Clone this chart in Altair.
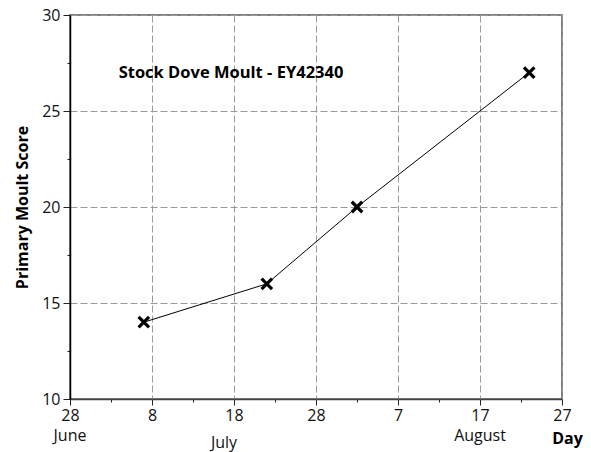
import altair as alt
import pandas as pd

# Moult observations for the ringed Stock Dove
sample_dates = ["07-07", "07-22", "08-02", "08-23"]
moult_scores = [14, 16, 20, 27]

# Axis ticks: one major tick every 10 days from 28 June, minor ones between
day_ticks = list(range(0, 61, 5))
day_labels = ["28", "8", "18", "28", "7", "17", "27"]
score_ticks = [10 + 2.5 * i for i in range(9)]

# Month names written under the day numbers (day offset from 28 June)
months = ["June", "July", "August"]
month_days = [0, 20, 50]

season_start = pd.Timestamp("2000-06-28")
days = [(pd.Timestamp("2000-" + d) - season_start).days for d in sample_dates]
df = pd.DataFrame({"day": days, "score": moult_scores})
month_df = pd.DataFrame({"day": month_days, "m": months})

FONT = "Open Sans"
W, H = 492, 384

label_list = "[" + ",".join(f"'{s}'" for s in day_labels) + "]"
x_axis = alt.Axis(
    values=day_ticks,
    labelExpr=f"datum.value % 10 == 0 ? {label_list}[datum.value / 10] : ''",
    labelFont=FONT, labelFontSize=16, labelColor="#111", labelPadding=2,
    labelFlush=False, labelOverlap=False,
    tickSize={"condition": {"test": "datum.value % 10 != 0", "value": 3}, "value": 6},
    tickColor="#222", domainColor="#444", domainWidth=1.5,
    grid=True, gridColor="#999", gridDash=[7, 3],
    gridOpacity={"condition": {"test": "datum.value % 10 != 0", "value": 0}, "value": 1},
    title="Day", titleFont=FONT, titleFontSize=16, titleFontWeight="bold",
    titleColor="#000", titleX=497, titleY=44, titleAlign="center",
    titleBaseline="alphabetic",
)

y_axis = alt.Axis(
    values=score_ticks,
    labelExpr="datum.value % 5 == 0 ? datum.value : ''",
    labelFont=FONT, labelFontSize=16, labelColor="#111", labelPadding=3,
    labelFlush=False, labelOverlap=False,
    tickSize={"condition": {"test": "datum.value % 5 != 0", "value": 3}, "value": 7},
    tickColor="#222", domainColor="#000", domainWidth=1.5,
    grid=True, gridColor="#999", gridDash=[7, 3],
    gridOpacity={"condition": {"test": "datum.value % 5 != 0", "value": 0}, "value": 1},
    title="Primary Moult Score", titleFont=FONT, titleFontSize=16,
    titleFontWeight="bold", titleColor="#000", titlePadding=11,
)

x_enc = alt.X("day:Q", scale=alt.Scale(domain=[0, 60], nice=False), axis=x_axis)
y_enc = alt.Y("score:Q", scale=alt.Scale(domain=[10, 30], nice=False), axis=y_axis)

line = alt.Chart(df).mark_line(color="#000", strokeWidth=1).encode(x=x_enc, y=y_enc)

points = alt.Chart(df).mark_point(
    shape="M-1,-1L1,1M-1,1L1,-1", size=110, filled=False,
    stroke="#000", strokeWidth=3.2, opacity=1,
).encode(x="day:Q", y="score:Q")

title_df = pd.DataFrame({"t": ["Stock Dove Moult - EY42340"]})
title = alt.Chart(title_df).mark_text(
    font=FONT, fontSize=16.5, fontWeight="bold", color="#000",
    align="center", baseline="middle",
).encode(x=alt.value(161), y=alt.value(58), text="t:N")

month_style = dict(font=FONT, fontSize=16, color="#111", align="center",
                   baseline="alphabetic")
june_aug = alt.Chart(month_df).transform_filter(
    "datum.m != 'July'"
).mark_text(**month_style).encode(x="day:Q", y=alt.value(H + 42), text="m:N")
july = alt.Chart(month_df).transform_filter(
    "datum.m == 'July'"
).mark_text(dx=-10, **month_style).encode(x="day:Q", y=alt.value(H + 49), text="m:N")

chart = (
    alt.layer(line, points, title, june_aug, july)
    .properties(
        width=W, height=H,
        autosize=alt.AutoSizeParams(type="none"),
        padding={"left": 70, "top": 15, "right": 29, "bottom": 53},
        background="#ffffff",
    )
    .configure_view(stroke="#555", strokeWidth=1.5)
)

chart.save("out.html", embed_options={"renderer": "svg", "actions": False})
